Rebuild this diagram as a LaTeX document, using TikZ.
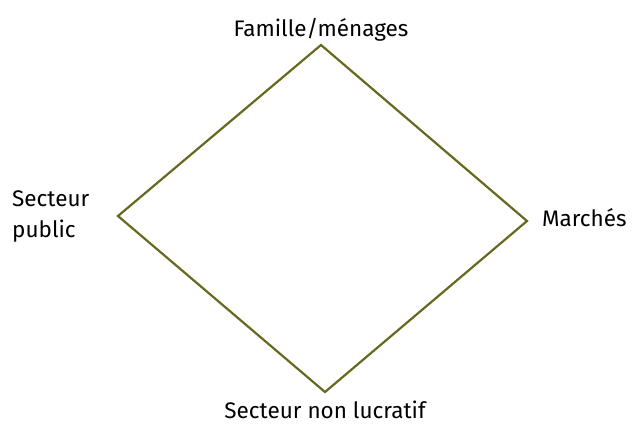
\documentclass[tikz,border=0pt]{standalone}
\usepackage{fontspec}
\setmainfont{Fira Sans}
\definecolor{olive}{HTML}{66691E}
\begin{document}
\begin{tikzpicture}[x=1pt,y=-1pt,
  lbl/.style={font=\fontsize{22.5}{31}\selectfont, inner sep=0pt, text=black},
  edge/.style={draw=olive, line width=2.2pt, line join=miter}]
\useasboundingbox (0,0) rectangle (634,423);
\coordinate (t) at (321,45);
\coordinate (l) at (118,216);
\coordinate (r) at (527,221);
\coordinate (b) at (325,392);
\draw[edge] (t) -- (r) -- (b) -- (l) -- cycle;
\node[lbl, anchor=base] (fam) at (321,36) {Famille/ménages};
\node[lbl, anchor=base west, align=left] (pub) at (12,237) {Secteur\\public};
\node[lbl, anchor=base west] (mar) at (542,226) {Marchés};
\node[lbl, anchor=base] (snl) at (325,418) {Secteur non lucratif};
\end{tikzpicture}
\end{document}
